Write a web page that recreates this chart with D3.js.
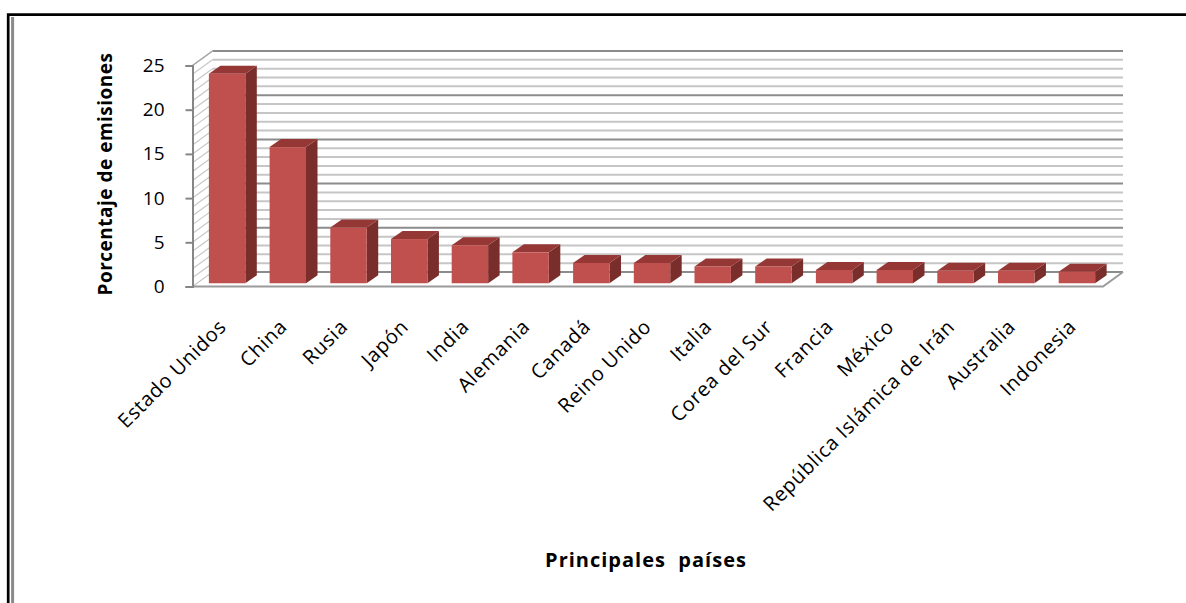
<!DOCTYPE html>
<html lang="es">
<head>
<meta charset="utf-8">
<script src="https://cdn.jsdelivr.net/npm/d3@7"></script>
<style>
  html, body { margin: 0; padding: 0; background: #fff; }
  svg { display: block; }
  text { font-family: "Open Sans", "Noto Sans", sans-serif; }
</style>
</head>
<body>
<svg id="chart" width="1186" height="603"></svg>
<script>
// Share of global emissions by country (%)
const countries = [
  "Estado Unidos", "China", "Rusia", "Japón", "India", "Alemania", "Canadá",
  "Reino Unido", "Italia", "Corea del Sur", "Francia", "México",
  "República Islámica de Irán", "Australia", "Indonesia"
];
const emissions = [23.7, 15.4, 6.3, 5.0, 4.3, 3.5, 2.3, 2.3, 1.9, 1.9, 1.5, 1.5, 1.4, 1.4, 1.3];
const yTicks = [0, 5, 10, 15, 20, 25];
const yMinor = d3.range(0, 26, 1);
const yTitle = "Porcentaje de emisiones";
const xTitle = "Principales  países";

const svg = d3.select("#chart");

// frame lines on the top and left side
svg.append("path").attr("d", "M8.2,603V14.7H1186")
  .attr("fill", "none").attr("stroke", "#000").attr("stroke-width", 2.7);
svg.append("line").attr("x1", 12.6).attr("x2", 12.6).attr("y1", 17).attr("y2", 603)
  .attr("stroke", "#8a8a8a").attr("stroke-width", 3);

// plot geometry: front plane plus an oblique depth offset
const x0 = 192.5, x1 = 1103;
const depth = { dx: 20, dy: -14.5 };
const x = d3.scaleBand().domain(countries).range([x0, x1]).paddingInner(0.4).paddingOuter(0.2);
const y = d3.scaleLinear().domain([0, 25]).range([286.5, 65.5]);

const g = svg.append("g");

// back wall grid (one line per unit, darker every 5)
g.append("g").selectAll("line").data(yMinor).join("line")
  .attr("x1", x0 + depth.dx).attr("x2", x1 + depth.dx)
  .attr("y1", d => y(d) + depth.dy).attr("y2", d => y(d) + depth.dy)
  .attr("stroke", d => d % 5 === 0 ? "#8c8c8c" : "#c6c6c6")
  .attr("stroke-width", 2);

// side wall grid (oblique hatching)
g.append("g").selectAll("line").data(yMinor).join("line")
  .attr("x1", x0).attr("x2", x0 + depth.dx)
  .attr("y1", d => y(d)).attr("y2", d => y(d) + depth.dy)
  .attr("stroke", "#c8c8c8").attr("stroke-width", 1.2);
g.append("line")
  .attr("x1", x0).attr("x2", x0 + depth.dx)
  .attr("y1", y(25)).attr("y2", y(25) + depth.dy)
  .attr("stroke", "#a6a6a6").attr("stroke-width", 1.5);

// floor outline
g.append("path")
  .attr("d", `M${x0},${y(0)}H${x1}L${x1 + depth.dx},${y(0) + depth.dy}`)
  .attr("fill", "none").attr("stroke", "#9a9a9a").attr("stroke-width", 2);

// bars as 3D columns centred in the depth
const bd = { dx: 11.5, dy: -8 };
const off = { dx: (depth.dx - bd.dx) / 2, dy: (depth.dy - bd.dy) / 2 };
const bars = g.append("g").selectAll("g").data(countries).join("g");
bars.each(function (c, i) {
  const v = emissions[i];
  const xl = x(c) + off.dx, xr = xl + x.bandwidth();
  const yb = y(0) + off.dy, yt = y(v) + off.dy;
  const s = d3.select(this);
  s.append("path")
    .attr("d", `M${xr},${yt}L${xr + bd.dx},${yt + bd.dy}L${xr + bd.dx},${yb + bd.dy}L${xr},${yb}Z`)
    .attr("fill", "#7a2e2c");
  s.append("path")
    .attr("d", `M${xl},${yt}L${xr},${yt}L${xr + bd.dx},${yt + bd.dy}L${xl + bd.dx},${yt + bd.dy}Z`)
    .attr("fill", "#953735");
  s.append("rect")
    .attr("x", xl).attr("y", yt).attr("width", x.bandwidth()).attr("height", yb - yt)
    .attr("fill", "#c0504d");
});

// value axis on the front-left edge
const yAxis = d3.axisLeft(y).tickValues(yTicks).tickSize(7).tickPadding(21).tickFormat(d3.format("d"));
const ya = g.append("g").attr("transform", `translate(${x0},0)`).call(yAxis);
ya.select(".domain").attr("stroke", "#868686").attr("stroke-width", 2);
ya.selectAll(".tick line").attr("stroke", "#868686").attr("stroke-width", 2);
ya.selectAll(".tick text").attr("font-size", 19).attr("fill", "#000")
  .attr("font-family", "'Open Sans', sans-serif");

// category labels, rotated
g.append("g").selectAll("text").data(countries).join("text")
  .attr("transform", d => `translate(${x(d) + off.dx + x.bandwidth() / 2 + 0.5},${328}) rotate(-45)`)
  .attr("text-anchor", "end")
  .attr("font-size", 20)
  .attr("letter-spacing", 0.7)
  .attr("fill", "#000")
  .text(d => d);

// axis titles
svg.append("text")
  .attr("transform", "translate(112,174) rotate(-90)")
  .attr("text-anchor", "middle")
  .attr("font-size", 19).attr("font-weight", "bold")
  .attr("letter-spacing", 0.5)
  .text(yTitle);
svg.append("text")
  .attr("x", 646).attr("y", 567)
  .attr("text-anchor", "middle")
  .attr("font-size", 20).attr("font-weight", "bold")
  .attr("letter-spacing", 1)
  .style("white-space", "pre")
  .text(xTitle);
</script>
</body>
</html>
